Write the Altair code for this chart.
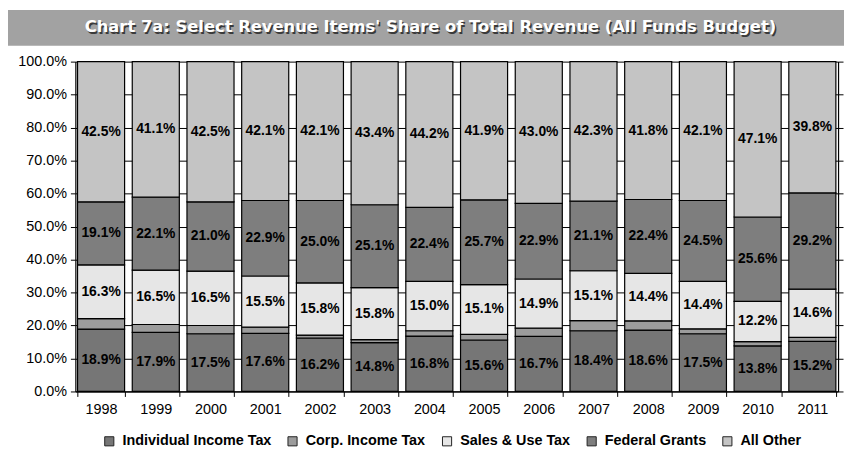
import altair as alt
import pandas as pd

years = [str(y) for y in range(1998, 2012)]
categories = ["Individual Income Tax", "Corp. Income Tax", "Sales & Use Tax", "Federal Grants", "All Other"]
individual = [18.9, 17.9, 17.5, 17.6, 16.2, 14.8, 16.8, 15.6, 16.7, 18.4, 18.6, 17.5, 13.8, 15.2]
corp = [3.2, 2.4, 2.5, 1.9, 0.9, 0.9, 1.6, 1.7, 2.5, 3.1, 2.8, 1.5, 1.3, 1.2]
sales = [16.3, 16.5, 16.5, 15.5, 15.8, 15.8, 15.0, 15.1, 14.9, 15.1, 14.4, 14.4, 12.2, 14.6]
federal = [19.1, 22.1, 21.0, 22.9, 25.0, 25.1, 22.4, 25.7, 22.9, 21.1, 22.4, 24.5, 25.6, 29.2]
other = [42.5, 41.1, 42.5, 42.1, 42.1, 43.4, 44.2, 41.9, 43.0, 42.3, 41.8, 42.1, 47.1, 39.8]
labeled = [True, False, True, True, True]
colors = ["#767676", "#9c9c9c", "#e6e6e6", "#7e7e7e", "#c4c4c4"]
y_ticks = [0, 10, 20, 30, 40, 50, 60, 70, 80, 90, 100]
title_text = "Chart 7a:  Select Revenue Items' Share of Total Revenue (All Funds Budget)"

series = [individual, corp, sales, federal, other]
rows = []
for ci, (cat, vals) in enumerate(zip(categories, series)):
    for yr, v in zip(years, vals):
        rows.append({"year": yr, "category": cat, "idx": ci, "value": v, "lab": labeled[ci]})
df = pd.DataFrame(rows)

FONT = "Liberation Sans"
W, H = 770, 333

base = alt.Chart(df)

bars = base.mark_bar(stroke="black", strokeWidth=1.2).encode(
    x=alt.X("year:N", sort=years,
            scale=alt.Scale(paddingInner=0.14, paddingOuter=0.04),
            axis=alt.Axis(title=None, labelAngle=0, tickBand="extent", domainColor="black",
                          tickColor="black", tickSize=5, labelFontSize=14.5, labelColor="black",
                          labelPadding=6, labelFont=FONT, domainWidth=1.2)),
    y=alt.Y("value:Q", stack="zero",
            scale=alt.Scale(domain=[0, 100], nice=False),
            axis=alt.Axis(title=None, values=y_ticks,
                          labelExpr="format(datum.value, '.1f') + '%'",
                          grid=True, gridColor="black", gridWidth=1,
                          domainColor="black", tickColor="black", tickSize=5,
                          labelFontSize=14.5, labelColor="black", labelFont=FONT,
                          labelPadding=4, domainWidth=1.2)),
    color=alt.Color("category:N",
                    scale=alt.Scale(domain=categories, range=colors),
                    legend=alt.Legend(title=None, orient="none", legendX=27, legendY=376,
                                      direction="horizontal", columns=5,
                                      symbolType="square", symbolSize=85,
                                      symbolStrokeColor="#222", symbolStrokeWidth=1,
                                      labelFontSize=14.5, labelFontWeight="bold",
                                      labelFont=FONT, labelColor="black",
                                      labelOffset=6, columnPadding=14)),
    order=alt.Order("idx:Q", sort="ascending"),
)

labels = base.transform_stack(
    stack="value", groupby=["year"], as_=["y0", "y1"],
    sort=[alt.SortField("idx", order="ascending")]
).transform_calculate(
    mid="(datum.y0 + datum.y1) / 2",
    txt="format(datum.value, '.1f') + '%'"
).transform_filter("datum.lab").mark_text(
    fontSize=14, fontWeight="bold", font=FONT, color="black", baseline="middle"
).encode(
    x=alt.X("year:N", sort=years),
    y=alt.Y("mid:Q", axis=alt.Axis(orient="right", title=None, labels=False, grid=False,
                                   values=y_ticks, domainColor="black", tickColor="black",
                                   tickSize=5, domainWidth=1.2)),
    text="txt:N",
)

tdf = pd.DataFrame({"t": [title_text]})
band = alt.Chart(tdf).mark_rect(color="#a2a2a2").encode(
    x=alt.value(-68), x2=alt.value(W + 6), y=alt.value(-52), y2=alt.value(-16)
)
shadow = alt.Chart(tdf).mark_text(
    fontSize=16.5, fontWeight="bold", font="DejaVu Sans", color="#3a3a3a", align="center", baseline="middle"
).encode(x=alt.value(360), y=alt.value(-33), text="t:N")
title = alt.Chart(tdf).mark_text(
    fontSize=16.5, fontWeight="bold", font="DejaVu Sans", color="white", align="center", baseline="middle"
).encode(x=alt.value(358.5), y=alt.value(-34.5), text="t:N")

chart = alt.layer(band, shadow, title, bars, labels).resolve_scale(
    y="shared"
).resolve_axis(y="independent").properties(
    width=W, height=H,
    autosize=alt.AutoSizeParams(type="none"),
    padding={"left": 68, "top": 52, "right": 6, "bottom": 60},
    background="white",
).configure_view(stroke=None)

chart.save("out.html", embed_options={"renderer": "svg", "actions": False})
